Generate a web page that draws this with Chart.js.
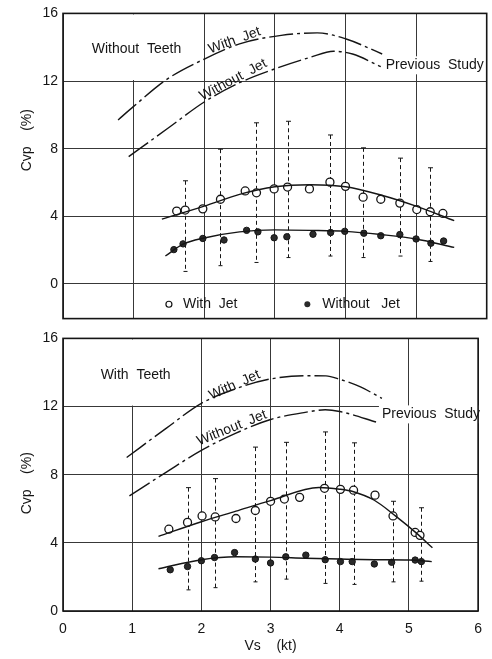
<!DOCTYPE html>
<html>
<head>
<meta charset="utf-8">
<script src="https://cdn.jsdelivr.net/npm/chart.js@4.4.0/dist/chart.umd.min.js"></script>
<style>
  body { margin: 0; background: #fff; }
  #wrap { position: relative; width: 492px; height: 659px; }
  canvas { position: absolute; left: 0; }
  #topChart { top: 0; }
  #bottomChart { top: 325px; }
</style>
</head>
<body>
<div id="wrap">
  <canvas id="topChart" width="492" height="332"></canvas>
  <canvas id="bottomChart" width="492" height="334"></canvas>
</div>
<script>
const yTicks = [0, 4, 8, 12, 16];

// Without Teeth (upper panel)
const prevJetTopX = [0.78, 1.0, 1.47, 2.0, 2.5, 3.09, 3.6, 4.0, 4.52];
const prevJetTopY = [9.7, 10.5, 12.1, 13.3, 14.2, 14.7, 14.85, 14.5, 13.6];
const prevNoJetTopX = [0.93, 1.5, 2.0, 2.5, 3.09, 3.5, 3.83, 4.1, 4.5];
const prevNoJetTopY = [7.53, 9.25, 10.76, 11.9, 12.85, 13.4, 13.76, 13.6, 12.85];
const fitJetTopX = [1.4, 2.0, 2.5, 3.0, 3.5, 4.0, 4.5, 5.0, 5.54];
const fitJetTopY = [3.83, 4.6, 5.3, 5.75, 5.87, 5.75, 5.26, 4.6, 3.74];
const fitNoJetTopX = [1.45, 1.7, 2.0, 2.5, 3.0, 3.5, 4.0, 4.5, 5.0, 5.54];
const fitNoJetTopY = [1.65, 2.35, 2.72, 3.08, 3.2, 3.17, 3.11, 2.92, 2.66, 2.16];
const measJetTopX = [1.61, 1.73, 1.98, 2.23, 2.58, 2.74, 2.99, 3.18, 3.49, 3.78, 4.00, 4.25, 4.50, 4.77, 5.01, 5.20, 5.38];
const measJetTopY = [4.31, 4.37, 4.44, 5.01, 5.50, 5.39, 5.62, 5.73, 5.62, 6.02, 5.77, 5.13, 5.01, 4.78, 4.40, 4.27, 4.17];
const measNoJetTopX = [1.57, 1.70, 1.98, 2.28, 2.60, 2.76, 2.99, 3.17, 3.54, 3.79, 3.99, 4.26, 4.50, 4.77, 5.00, 5.21, 5.39];
const measNoJetTopY = [2.03, 2.37, 2.69, 2.60, 3.17, 3.08, 2.73, 2.79, 2.94, 3.04, 3.11, 3.00, 2.85, 2.92, 2.66, 2.41, 2.54];
const errTopX = [1.73, 2.23, 2.74, 3.18, 3.78, 4.25, 4.77, 5.20];
const errTopHigh = [6.1, 7.97, 9.53, 9.62, 8.81, 8.05, 7.44, 6.87];
const errTopLow = [0.74, 1.08, 1.27, 1.56, 1.65, 1.56, 1.65, 1.33];

// With Teeth (lower panel)
const prevJetBotX = [0.92, 1.5, 2.0, 2.5, 3.0, 3.52, 3.8, 4.0, 4.3, 4.61];
const prevJetBotY = [9.01, 10.75, 12.19, 13.05, 13.62, 13.81, 13.8, 13.6, 13.15, 12.48];
const prevNoJetBotX = [0.96, 1.5, 2.0, 2.5, 3.0, 3.5, 3.79, 4.0, 4.56];
const prevNoJetBotY = [6.76, 8.17, 9.43, 10.44, 11.24, 11.66, 11.81, 11.71, 11.05];
const fitJetBotX = [1.38, 2.0, 2.5, 3.0, 3.7, 4.0, 4.2, 4.5, 4.8, 5.1, 5.34];
const fitJetBotY = [4.38, 5.24, 5.86, 6.48, 7.25, 7.15, 7.0, 6.5, 5.6, 4.6, 3.71];
const fitNoJetBotX = [1.38, 2.0, 2.5, 3.0, 3.5, 4.0, 4.5, 5.0, 5.33];
const fitNoJetBotY = [2.48, 3.01, 3.18, 3.16, 3.1, 3.05, 3.01, 2.99, 2.90];
const measJetBotX = [1.53, 1.80, 2.01, 2.20, 2.50, 2.78, 3.00, 3.20, 3.42, 3.78, 4.01, 4.20, 4.51, 4.77, 5.09, 5.16];
const measJetBotY = [4.80, 5.20, 5.58, 5.52, 5.43, 5.90, 6.44, 6.57, 6.67, 7.20, 7.14, 7.09, 6.80, 5.58, 4.61, 4.44];
const measNoJetBotX = [1.55, 1.80, 2.00, 2.19, 2.48, 2.78, 3.00, 3.22, 3.51, 3.79, 4.01, 4.18, 4.50, 4.75, 5.09, 5.18];
const measNoJetBotY = [2.42, 2.61, 2.95, 3.14, 3.43, 3.05, 2.82, 3.18, 3.28, 3.01, 2.90, 2.90, 2.76, 2.86, 2.99, 2.90];
const errBotX = [1.80, 2.20, 2.78, 3.22, 3.78, 4.20, 4.77, 5.18];
const errBotHigh = [7.24, 7.77, 9.62, 9.9, 10.51, 9.87, 6.44, 6.06];
const errBotLow = [1.24, 1.37, 1.71, 1.87, 1.62, 1.56, 1.71, 1.75];

const INK = '#151515';
const FONT = '"Liberation Sans", Arial, sans-serif';

Chart.defaults.font.family = FONT;
Chart.defaults.font.size = 14;
Chart.defaults.color = INK;

function toPoints(xs, ys) {
  return xs.map((x, i) => ({ x: x, y: ys[i] }));
}

function curve(xs, ys, dashed) {
  return {
    data: toPoints(xs, ys),
    showLine: true,
    borderColor: INK,
    borderWidth: 1.4,
    borderDash: dashed ? [24, 4, 3, 4] : [],
    pointRadius: 0,
    cubicInterpolationMode: 'monotone'
  };
}

function markers(xs, ys, open) {
  return {
    data: toPoints(xs, ys),
    showLine: false,
    pointRadius: open ? 4 : 3.2,
    pointBorderWidth: open ? 1.3 : 1,
    pointBorderColor: INK,
    pointBackgroundColor: open ? '#fff' : '#2a2a2a'
  };
}

function drawNote(ctx, x, y, note) {
  const px = x.getPixelForValue(note.x);
  const py = y.getPixelForValue(note.y);
  ctx.save();
  ctx.translate(px, py);
  ctx.rotate(-(note.angle || 0) * Math.PI / 180);
  ctx.font = '14px ' + FONT;
  ctx.textAlign = note.align || 'center';
  ctx.textBaseline = 'middle';
  if (note.clear) {
    const w = ctx.measureText(note.text).width;
    ctx.fillStyle = '#fff';
    ctx.fillRect(-3, -9, w + 6, 18);
  }
  ctx.fillStyle = INK;
  ctx.fillText(note.text, 0, 0);
  ctx.restore();
}

function panelPlugin(panel) {
  return {
    id: 'panel',
    beforeDatasetsDraw(chart) {
      const { ctx, scales: { x, y } } = chart;
      ctx.save();
      // label box in the upper left corner has no grid inside
      const l = x.getPixelForValue(0), r = x.getPixelForValue(2);
      const t = y.getPixelForValue(16), b = y.getPixelForValue(12);
      ctx.fillStyle = '#fff';
      ctx.fillRect(l + 1, t + 1, r - l - 2, b - t - 2);

      ctx.strokeStyle = INK;
      ctx.lineWidth = 1;
      panel.errX.forEach((v, i) => {
        const px = Math.round(x.getPixelForValue(v)) + 0.5;
        const hi = y.getPixelForValue(panel.errHigh[i]);
        const lo = y.getPixelForValue(panel.errLow[i]);
        ctx.setLineDash([4, 3]);
        ctx.beginPath();
        ctx.moveTo(px, hi);
        ctx.lineTo(px, lo);
        ctx.stroke();
        ctx.setLineDash([]);
        ctx.beginPath();
        ctx.moveTo(px - 2.5, hi);
        ctx.lineTo(px + 2.5, hi);
        ctx.moveTo(px - 2, lo);
        ctx.lineTo(px + 2, lo);
        ctx.stroke();
      });
      ctx.restore();
    },
    afterDraw(chart) {
      const { ctx, chartArea, scales: { x, y } } = chart;
      panel.notes.forEach(n => drawNote(ctx, x, y, n));

      ctx.save();
      ctx.strokeStyle = INK;
      ctx.lineWidth = 1.6;
      ctx.strokeRect(chartArea.left, chartArea.top, chartArea.right - chartArea.left, chartArea.bottom - chartArea.top);

      ctx.translate(27, y.getPixelForValue(panel.titleAt));
      ctx.rotate(-Math.PI / 2);
      ctx.font = '14px ' + FONT;
      ctx.textAlign = 'center';
      ctx.textBaseline = 'middle';
      ctx.fillStyle = INK;
      ctx.fillText('Cvp    (%)', 0, 0);
      ctx.restore();

      if (panel.legend) {
        const ly = y.getPixelForValue(-1.2);
        ctx.save();
        ctx.strokeStyle = INK;
        ctx.lineWidth = 1.2;
        ctx.fillStyle = '#fff';
        ctx.beginPath();
        ctx.arc(x.getPixelForValue(1.5), ly, 3, 0, Math.PI * 2);
        ctx.fill();
        ctx.stroke();
        ctx.fillStyle = '#2a2a2a';
        ctx.beginPath();
        ctx.arc(x.getPixelForValue(3.46), ly, 3, 0, Math.PI * 2);
        ctx.fill();
        ctx.font = '14px ' + FONT;
        ctx.textBaseline = 'middle';
        ctx.fillStyle = INK;
        ctx.fillText('With  Jet', x.getPixelForValue(1.7), ly);
        ctx.fillText('Without   Jet', x.getPixelForValue(3.67), ly);
        ctx.restore();
      }
    }
  };
}

function makeChart(id, panel) {
  const ctx = document.getElementById(id).getContext('2d');
  return new Chart(ctx, {
    type: 'scatter',
    data: { datasets: panel.datasets },
    options: {
      responsive: false,
      animation: false,
      devicePixelRatio: 1,
      events: [],
      layout: { padding: panel.padding },
      plugins: { legend: { display: false }, tooltip: { enabled: false } },
      scales: {
        x: {
          type: 'linear',
          min: 0,
          max: 6,
          ticks: { stepSize: 1, display: panel.showX, padding: 10 },
          grid: { color: '#383838', lineWidth: 1, drawTicks: false },
          border: { display: false },
          title: { display: panel.showX, text: 'Vs    (kt)', padding: { top: 0, bottom: 4 } },
          afterFit(s) { s.height = panel.showX ? 48 : 0; }
        },
        y: {
          type: 'linear',
          min: panel.yMin,
          max: 16,
          afterBuildTicks(s) { s.ticks = yTicks.map(v => ({ value: v })); },
          ticks: { padding: 5 },
          grid: { color: '#383838', lineWidth: 1, drawTicks: false },
          border: { display: false },
          afterFit(s) { s.width = 63; }
        }
      }
    },
    plugins: [panelPlugin(panel)]
  });
}

makeChart('topChart', {
  yMin: -2.05,
  showX: false,
  padding: { top: 13, right: 5, left: 0, bottom: 2 },
  titleAt: 8.5,
  legend: true,
  errX: errTopX, errHigh: errTopHigh, errLow: errTopLow,
  notes: [
    { text: 'Without  Teeth', x: 1.04, y: 13.9 },
    { text: 'With  Jet', x: 2.43, y: 14.4, angle: 20 },
    { text: 'Without  Jet', x: 2.41, y: 12.07, angle: 28 },
    { text: 'Previous  Study', x: 4.57, y: 12.93, align: 'left', clear: true }
  ],
  datasets: [
    curve(prevJetTopX, prevJetTopY, true),
    curve(prevNoJetTopX, prevNoJetTopY, true),
    curve(fitJetTopX, fitJetTopY, false),
    curve(fitNoJetTopX, fitNoJetTopY, false),
    markers(measJetTopX, measJetTopY, true),
    markers(measNoJetTopX, measNoJetTopY, false)
  ]
});

makeChart('bottomChart', {
  yMin: 0,
  showX: true,
  padding: { top: 5, right: 7, left: 0, bottom: 0 },
  titleAt: 7.5,
  legend: false,
  errX: errBotX, errHigh: errBotHigh, errLow: errBotLow,
  notes: [
    { text: 'With  Teeth', x: 1.05, y: 13.83 },
    { text: 'With  Jet', x: 2.48, y: 13.26, angle: 24 },
    { text: 'Without  Jet', x: 2.44, y: 10.74, angle: 22 },
    { text: 'Previous  Study', x: 4.61, y: 11.54, align: 'left', clear: true }
  ],
  datasets: [
    curve(prevJetBotX, prevJetBotY, true),
    curve(prevNoJetBotX, prevNoJetBotY, true),
    curve(fitJetBotX, fitJetBotY, false),
    curve(fitNoJetBotX, fitNoJetBotY, false),
    markers(measJetBotX, measJetBotY, true),
    markers(measNoJetBotX, measNoJetBotY, false)
  ]
});
</script>
</body>
</html>
